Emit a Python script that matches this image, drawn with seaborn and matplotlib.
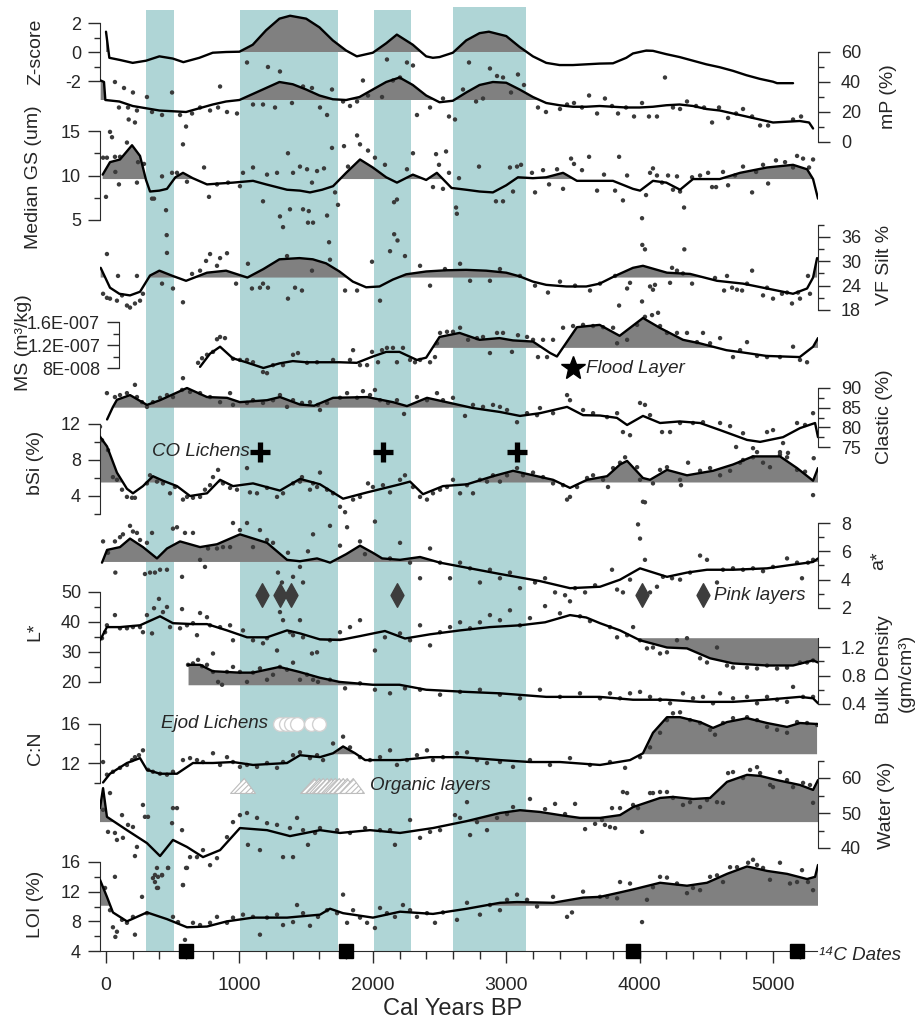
import numpy as np
import pandas as pd
import seaborn as sns
import matplotlib.pyplot as plt
from matplotlib import transforms
from matplotlib.path import Path

sns.set_style('ticks')
plt.rcParams['font.family'] = ['Liberation Sans', 'DejaVu Sans']
plt.rcParams['hatch.linewidth'] = 0.8
plt.rcParams['hatch.color'] = '#bdbdbd'

########################################################################################
# data  (age in cal years BP, value)
########################################################################################

zs_curve = [(0, 1.4), (25, -0.4), (105, -0.55), (200, -0.75), (300, -0.6), (400, -0.3), (500, -0.45), (580, -0.7),
            (700, -0.4), (800, -0.05), (900, 0.0), (1000, 0.02), (1100, 0.5), (1200, 1.5), (1300, 2.3), (1380, 2.5),
            (1500, 2.3), (1600, 1.7), (1700, 0.8), (1800, 0.1), (1880, -0.3), (2000, -0.05), (2100, 0.6), (2180, 1.2),
            (2300, 0.5), (2400, -0.3), (2450, -0.4), (2500, -0.35), (2600, -0.05), (2700, 0.8), (2800, 1.3), (2870, 1.4),
            (3000, 1.1), (3100, 0.35), (3200, -0.3), (3300, -0.75), (3400, -0.9), (3500, -0.9), (3600, -0.85),
            (3700, -0.8), (3800, -0.78), (3900, -0.4), (3950, -0.1), (4050, 0.1), (4100, 0.08), (4200, -0.15),
            (4300, -0.35), (4400, -0.6), (4500, -0.85), (4600, -1.05), (4700, -1.3), (4800, -1.6), (4900, -1.85),
            (5000, -2.05), (5030, -2.15), (5150, -2.15)]

mp_curve = [(-40, 41), (-15, 40), (-5, 28), (100, 27), (200, 24), (300, 22.5), (400, 21), (500, 20.5), (600, 20),
            (700, 22.5), (800, 25), (900, 27), (1000, 28), (1100, 32), (1200, 36), (1300, 40), (1400, 38.5), (1500, 35),
            (1600, 31), (1700, 28.5), (1800, 28), (1900, 30), (2000, 35), (2100, 40), (2200, 43), (2300, 38), (2400, 31),
            (2500, 26.5), (2600, 27.5), (2700, 33), (2800, 38), (2900, 40), (3000, 39.5), (3100, 35), (3200, 30),
            (3300, 26), (3400, 24.5), (3500, 23.5), (3600, 23.5), (3700, 24), (3800, 23.5), (3900, 23), (4000, 23),
            (4100, 23.5), (4200, 24.5), (4300, 25), (4400, 24), (4500, 22), (4600, 21), (4700, 19), (4800, 17),
            (4900, 15), (5000, 13), (5100, 13.5), (5200, 14), (5270, 13), (5300, 9)]
mp_pts = [(67, 40), (135, 36), (202, 33), (307, 30), (495, 33), (97, 23), (165, 23), (232, 21), (170, 15), (217, 13),
          (345, 20), (420, 18), (555, 18), (645, 19), (705, 23), (780, 21), (840, 23), (855, 37), (907, 20), (982, 19),
          (1057, 53), (1102, 25), (1177, 25), (1214, 50), (1267, 23), (1304, 47), (1394, 26), (1477, 37), (1544, 36),
          (1694, 35), (1604, 23), (1657, 18), (1777, 27), (1829, 24), (1882, 27), (1926, 41), (1964, 31), (2069, 30),
          (2106, 55), (2151, 41), (2204, 43), (2256, 53), (2301, 51), (2331, 18), (2429, 23), (2526, 29), (2571, 17),
          (2616, 15), (2676, 35), (2721, 53), (2774, 27), (2826, 29), (2878, 49), (2931, 44), (2976, 43), (3036, 33),
          (3088, 45), (3133, 38), (3238, 23), (3298, 20), (3403, 22), (3456, 25), (3508, 26), (3568, 23), (3621, 31),
          (3681, 19), (3740, 29), (3793, 24), (3838, 19), (3898, 23), (3958, 17), (4018, 26), (4070, 17), (4130, 17),
          (4190, 43), (4250, 23), (4303, 22), (4355, 27), (4423, 24), (4483, 23), (4543, 13), (4595, 23), (4663, 16),
          (4723, 19), (4775, 22), (4843, 17), (4903, 11), (4963, 11), (5150, 15), (5210, 17)]

gs_curve = [(-25, 10.1), (30, 11.5), (105, 11.8), (150, 12.6), (195, 13.4), (255, 12.2), (300, 9.5), (330, 8.2),
            (400, 8.3), (457, 8.5), (520, 9.8), (577, 10.3), (650, 9.7), (757, 9.0), (850, 9.1), (952, 9.2), (1102, 9.4),
            (1200, 9.0), (1357, 8.4), (1454, 8.3), (1529, 8.1), (1620, 8.4), (1702, 8.8), (1800, 10.3), (1904, 11.8),
            (2000, 10.9), (2100, 9.8), (2181, 9.2), (2300, 10.1), (2400, 9.5), (2480, 10.3), (2590, 8.6), (2700, 8.4),
            (2800, 8.2), (2900, 8.1), (3000, 8.9), (3088, 9.8), (3200, 9.7), (3300, 9.8), (3426, 10.3), (3530, 9.4),
            (3650, 9.4), (3800, 9.4), (3950, 8.5), (4003, 8.3), (4100, 9.4), (4200, 9.2), (4303, 8.4), (4400, 9.6),
            (4600, 9.6), (4753, 10.3), (4955, 10.9), (5150, 11.2), (5255, 10.7), (5300, 9.6), (5337, 7.4)]
gs_pts = [(30, 14.9), (45, 14.3), (-22, 12.0), (7, 12.0), (67, 12.1), (105, 12.1), (70, 10.4), (97, 9.0), (0, 7.6),
          (157, 13.7), (240, 11.5), (285, 11.3), (232, 9.2), (345, 7.4), (360, 7.4), (450, 6.1), (455, 3.3), (457, 1.3),
          (420, 9.9), (495, 10.3), (532, 10.3), (600, 15.5), (577, 13.5), (607, 9.3), (735, 10.9), (772, 7.6),
          (832, 9.0), (915, 9.2), (1004, 8.8), (1027, 10.3), (1102, 10.9), (1177, 7.1), (1207, 10.1), (1282, 10.3),
          (1364, 12.5), (1304, 5.4), (1327, 4.2), (1379, 6.2), (1454, 11.0), (1402, 10.3), (1477, 6.2), (1514, 4.7),
          (1552, 4.7), (1507, 10.7), (1582, 10.5), (1634, 10.8), (1544, 9.2), (1520, 6.0), (1657, 5.5), (1672, 2.5),
          (1694, 13.1), (1717, 8.1), (1739, 6.7), (1784, 13.3), (1814, 11.0), (1882, 14.5), (1904, 13.5), (1964, 12.8),
          (2016, 12.0), (2091, 11.2), (2159, 7.0), (2181, 7.3), (2160, 3.4), (2185, 2.7), (2256, 10.7), (2301, 12.5),
          (2474, 12.4), (2496, 11.2), (2549, 12.7), (2526, 8.5), (2451, 8.7), (2571, 10.3), (2624, 6.4), (2630, 5.7),
          (2646, 9.7), (2796, 11.0), (2923, 7.1), (2976, 7.1), (3028, 10.9), (3081, 11.0), (3111, 11.2), (3051, 8.2),
          (3193, 10.3), (3216, 8.1), (3276, 10.6), (3321, 9.0), (3381, 10.7), (3426, 8.5), (3486, 11.9), (3508, 11.3),
          (3568, 10.6), (3621, 12.1), (3681, 8.3), (3733, 10.1), (3816, 8.3), (3846, 12.1), (3875, 7.2), (3906, 10.0),
          (4018, 5.2), (4020, 2.2), (4040, 1.7), (4048, 7.8), (4078, 10.3), (4100, 10.8), (4130, 10.0), (4168, 9.2),
          (4213, 10.0), (4250, 8.4), (4280, 9.9), (4303, 8.2), (4333, 6.4), (4335, 1.7), (4393, 9.8), (4453, 10.0),
          (4513, 10.3), (4543, 8.7), (4573, 8.7), (4625, 10.4), (4663, 8.9), (4715, 10.0), (4775, 11.0), (4843, 8.1),
          (4873, 10.4), (4925, 11.2), (4963, 9.1), (5022, 11.7), (5090, 11.5), (5150, 10.9), (5180, 12.2), (5225, 11.9),
          (5270, 10.9), (5300, 11.8)]

vf_curve = [(-40, 28.4), (30, 23.5), (100, 22), (180, 21.6), (255, 22.5), (330, 26.5), (400, 27.7), (500, 26.4),
            (600, 25.2), (757, 27.2), (900, 27.7), (1060, 26.0), (1180, 28.1), (1300, 30.5), (1450, 30.8), (1550, 30.5),
            (1650, 29.5), (1750, 27.5), (1850, 25.0), (1950, 23.6), (2050, 23.8), (2150, 25.5), (2250, 26.8),
            (2400, 27.5), (2550, 27.8), (2700, 27.9), (2850, 27.7), (3000, 27.2), (3100, 26.3), (3200, 25.0),
            (3300, 24.2), (3450, 23.8), (3600, 23.8), (3700, 24.5), (3816, 26.4), (3950, 28.4), (4025, 28.9),
            (4205, 27.2), (4378, 26.9), (4580, 25.2), (4775, 24.5), (4955, 23.3), (5150, 22.0), (5255, 23.3),
            (5300, 26.0), (5330, 30.8)]
vf_pts = [(7, 31.8), (90, 26.4), (232, 26.4), (-22, 22.0), (7, 21.0), (30, 20.8), (82, 20.3), (120, 21.6), (157, 19.1),
          (180, 18.6), (217, 19.6), (255, 20.3), (277, 22.0), (420, 24.5), (502, 23.3), (577, 19.9), (645, 26.9),
          (705, 27.7), (750, 30.1), (780, 31.8), (855, 30.8), (907, 32.0), (832, 28.9), (975, 24.5), (1064, 29.4),
          (1094, 23.3), (1154, 23.5), (1177, 24.5), (1214, 23.5), (1357, 31.3), (1364, 20.8), (1417, 23.5),
          (1469, 22.8), (1544, 27.7), (1679, 30.4), (1792, 22.8), (1882, 22.8), (1994, 29.9), (2054, 20.3),
          (2129, 32.5), (2241, 31.3), (2354, 28.9), (2429, 24.0), (2541, 28.1), (2654, 29.4), (2729, 25.2),
          (2878, 25.2), (2953, 28.1), (3103, 26.4), (3216, 24.0), (3313, 22.3), (3403, 25.0), (3516, 24.0),
          (3628, 22.8), (3703, 24.5), (3816, 26.4), (3928, 24.7), (3906, 23.3), (3846, 19.1), (4018, 20.1),
          (4078, 23.8), (4115, 24.2), (4100, 23.0), (4243, 28.4), (4280, 27.7), (4228, 24.7), (4325, 27.0),
          (4393, 24.5), (4565, 25.9), (4655, 26.4), (4633, 22.8), (4693, 23.5), (4730, 23.0), (4768, 22.8),
          (4843, 27.7), (4805, 24.5), (4925, 21.6), (4955, 23.5), (5000, 20.8), (5067, 22.0), (5105, 22.3),
          (5187, 22.3), (5202, 20.8), (5142, 19.6), (5277, 22.0), (5262, 26.4)]

ms_curve = [(705, 8.2e-8), (780, 10.5e-8), (855, 11.7e-8), (950, 9.7e-8), (1050, 9.0e-8), (1180, 8.0e-8),
            (1300, 8.8e-8), (1400, 9.2e-8), (1500, 9.0e-8), (1600, 9.0e-8), (1750, 9.0e-8), (1880, 8.9e-8),
            (2000, 10.0e-8), (2100, 10.8e-8), (2200, 10.8e-8), (2330, 9.4e-8), (2400, 9.8e-8), (2500, 13.4e-8),
            (2650, 14.1e-8), (2800, 12.9e-8), (2950, 13.2e-8), (3050, 12.8e-8), (3200, 12.6e-8), (3330, 10.6e-8),
            (3380, 10.0e-8), (3530, 15.1e-8), (3700, 15.5e-8), (3850, 13.6e-8), (4025, 16.7e-8), (4150, 15.0e-8),
            (4325, 12.9e-8), (4450, 12.3e-8), (4650, 11.1e-8), (4775, 10.7e-8), (4950, 10.1e-8), (5200, 9.9e-8),
            (5300, 11.7e-8), (5337, 13.2e-8)]
ms_pts = [(690, 8.9e-8), (720, 9.7e-8), (757, 10.3e-8), (802, 10.8e-8), (832, 13.0e-8), (855, 13.4e-8),
          (892, 13.2e-8), (952, 9.6e-8), (1004, 9.4e-8), (1057, 9.4e-8), (1102, 9.0e-8), (1177, 7.3e-8),
          (1207, 7.1e-8), (1252, 8.5e-8), (1327, 8.5e-8), (1402, 10.3e-8), (1439, 10.6e-8), (1507, 8.9e-8),
          (1582, 9.0e-8), (1702, 9.4e-8), (1829, 9.4e-8), (1852, 11.1e-8), (1904, 8.5e-8), (1957, 8.5e-8),
          (1994, 10.8e-8), (2039, 9.0e-8), (2069, 11.1e-8), (2106, 11.5e-8), (2151, 11.5e-8), (2181, 9.0e-8),
          (2226, 11.5e-8), (2279, 9.4e-8), (2316, 9.0e-8), (2354, 9.4e-8), (2429, 9.0e-8), (2466, 9.9e-8),
          (2481, 12.3e-8), (2504, 14.1e-8), (2556, 14.3e-8), (2601, 14.3e-8), (2654, 15.0e-8), (2714, 12.9e-8),
          (2781, 13.2e-8), (2826, 13.4e-8), (2878, 10.6e-8), (2931, 14.1e-8), (2976, 14.1e-8), (3043, 10.8e-8),
          (3088, 13.7e-8), (3156, 13.4e-8), (3201, 12.9e-8), (3238, 9.9e-8), (3276, 12.9e-8), (3351, 12.9e-8),
          (3306, 9.9e-8), (3426, 15.0e-8), (3501, 15.3e-8), (3576, 15.5e-8), (3651, 15.3e-8), (3726, 15.1e-8),
          (3801, 15.0e-8), (3831, 12.3e-8), (3906, 12.9e-8), (3981, 15.5e-8), (4040, 16.9e-8), (4093, 17.2e-8),
          (4138, 17.6e-8), (4153, 15.3e-8), (4205, 14.1e-8), (4280, 14.1e-8), (4355, 14.1e-8), (4430, 12.5e-8),
          (4475, 14.1e-8), (4528, 12.3e-8), (4603, 13.2e-8), (4700, 9.9e-8), (4753, 11.1e-8), (4805, 12.5e-8),
          (4880, 10.1e-8), (4955, 9.9e-8), (5052, 9.9e-8), (5150, 11.7e-8), (5202, 9.4e-8), (5255, 9.0e-8)]

cl_curve = [(8, 82.0), (52, 85.2), (82, 87.0), (180, 88.2), (307, 85.7), (405, 86.9), (607, 90.0), (757, 87.7),
            (907, 87.5), (1004, 86.4), (1207, 86.9), (1304, 87.7), (1454, 85.8), (1560, 85.5), (1702, 87.5),
            (1957, 87.7), (2151, 86.4), (2256, 85.4), (2406, 87.5), (2579, 86.2), (2751, 84.9), (2954, 83.9),
            (3103, 82.9), (3253, 83.6), (3456, 85.2), (3576, 83.1), (3703, 83.0), (3830, 82.4), (3906, 80.6),
            (4025, 82.9), (4153, 81.1), (4300, 81.5), (4453, 81.1), (4603, 79.3), (4805, 76.8), (4903, 76.3),
            (5075, 77.5), (5202, 79.8), (5315, 81.1), (5337, 77.5)]
cl_pts = [(7, 88.7), (67, 87.7), (105, 88.2), (157, 88.7), (217, 90.8), (232, 87.7), (270, 86.4), (307, 85.2),
          (352, 86.4), (405, 87.5), (457, 88.2), (502, 87.7), (570, 89.5), (577, 92.5), (630, 89.0), (705, 88.7),
          (780, 87.7), (855, 86.4), (930, 88.7), (952, 85.7), (1057, 86.2), (1102, 86.9), (1177, 86.2), (1252, 86.9),
          (1304, 88.2), (1357, 85.2), (1402, 86.9), (1469, 86.2), (1529, 86.4), (1589, 85.7), (1604, 84.4),
          (1657, 86.2), (1754, 87.5), (1807, 88.7), (1882, 87.5), (1926, 89.2), (1979, 88.2), (2016, 89.5),
          (2054, 86.9), (2114, 86.2), (2181, 86.9), (2234, 83.4), (2331, 87.7), (2406, 86.9), (2481, 88.7),
          (2526, 86.9), (2601, 87.5), (2691, 82.9), (2751, 85.7), (2826, 85.2), (2901, 85.7), (2953, 85.2),
          (3006, 84.4), (3081, 81.3), (3156, 83.6), (3231, 83.1), (3253, 84.9), (3351, 83.6), (3456, 88.2),
          (3478, 86.9), (3576, 84.4), (3651, 83.6), (3756, 82.6), (3831, 83.6), (3875, 78.8), (3928, 78.0),
          (4003, 86.2), (4040, 85.7), (4078, 83.1), (4168, 78.8), (4228, 78.8), (4303, 81.1), (4400, 81.1),
          (4475, 81.3), (4603, 81.1), (4678, 80.3), (4775, 78.5), (4723, 75.0), (4850, 74.7), (4880, 73.7),
          (4955, 78.8), (5000, 79.3), (5052, 73.7), (5075, 76.0), (5112, 73.5), (5180, 81.1), (5240, 80.6),
          (5300, 83.6)]

bsi_curve = [(-45, 10.6), (8, 9.5), (82, 6.6), (157, 4.8), (202, 4.3), (277, 5.1), (352, 6.2), (427, 5.7), (532, 5.1),
             (630, 4.0), (757, 4.3), (855, 5.8), (952, 5.1), (1102, 5.4), (1304, 4.6), (1454, 5.9), (1604, 5.3),
             (1777, 3.7), (1957, 4.4), (2204, 5.3), (2279, 5.6), (2376, 4.2), (2526, 5.1), (2706, 5.3), (2901, 6.2),
             (3051, 6.8), (3201, 6.3), (3351, 5.8), (3478, 4.9), (3606, 5.8), (3756, 6.2), (3853, 7.5), (3906, 7.9),
             (4025, 6.0), (4078, 5.8), (4205, 6.9), (4355, 6.3), (4550, 6.8), (4700, 7.5), (4850, 8.4), (5052, 8.4),
             (5180, 7.1), (5300, 5.7), (5337, 7.1)]
bsi_pts = [(-45, 11.7), (-30, 10.2), (15, 9.1), (52, 6.1), (82, 5.8), (120, 4.7), (157, 3.9), (195, 3.8), (217, 3.8),
           (307, 5.4), (330, 6.3), (382, 5.6), (427, 5.4), (480, 4.3), (517, 5.0), (577, 3.6), (607, 3.9), (652, 3.8),
           (705, 3.9), (742, 4.7), (780, 5.2), (802, 6.1), (840, 6.9), (877, 5.4), (930, 4.9), (982, 4.7), (1057, 7.1),
           (1079, 4.4), (1132, 4.3), (1207, 4.9), (1282, 3.9), (1327, 4.3), (1402, 5.4), (1454, 5.6), (1469, 6.1),
           (1529, 4.7), (1582, 5.0), (1552, 5.4), (1604, 6.6), (1657, 4.7), (1702, 4.3), (1754, 2.8), (1792, 2.2),
           (1852, 3.6), (1904, 3.9), (1964, 5.4), (2001, 5.0), (2076, 5.2), (2129, 4.4), (2204, 5.8), (2241, 6.3),
           (2301, 5.0), (2354, 3.9), (2406, 3.6), (2451, 4.3), (2504, 4.7), (2556, 5.0), (2601, 5.8), (2654, 4.3),
           (2706, 5.2), (2751, 4.3), (2803, 5.8), (2856, 5.6), (2901, 6.3), (2953, 5.6), (3006, 6.3), (3081, 7.1),
           (3126, 6.3), (3201, 6.6), (3276, 6.1), (3351, 5.4), (3426, 5.2), (3456, 3.6), (3478, 3.9), (3531, 5.0),
           (3606, 6.0), (3651, 6.3), (3726, 5.8), (3801, 7.1), (3763, 5.0), (3853, 7.7), (3891, 8.3), (3981, 7.2),
           (4040, 3.3), (4003, 5.8), (4100, 5.4), (4153, 6.9), (4205, 7.2), (4303, 5.8), (4310, 5.2), (4363, 7.7),
           (4453, 6.8), (4528, 7.1), (4603, 6.3), (4678, 6.8), (4753, 7.7), (4775, 8.0), (4850, 8.3), (4925, 7.7),
           (4977, 7.2), (5052, 8.6), (5105, 8.3), (5180, 6.9), (5240, 6.7), (5300, 4.1), (5305, 8.2)]

astar_curve = [(-30, 5.2), (8, 6.1), (105, 6.3), (180, 6.9), (277, 6.3), (382, 5.5), (457, 6.2), (555, 6.7),
               (705, 6.3), (832, 6.5), (1004, 7.2), (1207, 6.6), (1357, 5.4), (1454, 5.3), (1582, 5.5), (1680, 5.2),
               (1800, 5.8), (1904, 6.4), (2000, 5.9), (2070, 5.5), (2204, 5.4), (2354, 5.6), (2504, 5.2), (2729, 4.8),
               (2954, 4.4), (3253, 3.9), (3478, 3.4), (3703, 3.5), (3853, 4.0), (4003, 4.8), (4205, 4.2), (4355, 4.5),
               (4505, 4.7), (4700, 4.7), (4955, 4.8), (5105, 5.0), (5300, 5.25), (5337, 5.5)]
astar_pts = [(-22, 6.7), (15, 5.9), (67, 6.7), (105, 7.0), (127, 7.2), (180, 7.8), (202, 7.4), (232, 7.3), (255, 6.8),
             (307, 6.6), (345, 7.3), (70, 4.5), (292, 4.4), (330, 4.5), (367, 4.5), (405, 4.7), (457, 4.7), (502, 7.6),
             (532, 7.7), (592, 7.3), (570, 4.2), (652, 7.3), (705, 5.4), (742, 4.9), (765, 6.2), (832, 6.2),
             (877, 6.3), (930, 6.3), (952, 8.0), (1004, 7.5), (1057, 8.0), (1102, 6.3), (1154, 7.5), (1207, 6.8),
             (1252, 6.6), (1289, 4.5), (1319, 3.8), (1364, 5.9), (1402, 4.2), (1454, 4.9), (1477, 3.8), (1514, 6.0),
             (1552, 7.2), (1679, 7.8), (1754, 6.4), (1807, 7.7), (1904, 6.7), (1941, 5.8), (2016, 8.1), (2129, 5.5),
             (2204, 6.6), (2279, 5.2), (2354, 4.1), (2429, 6.2), (2504, 5.2), (2579, 4.1), (2654, 5.2), (2729, 4.8),
             (2803, 3.8), (2878, 4.7), (2953, 4.1), (3028, 4.5), (3103, 3.4), (3216, 3.8), (3291, 4.1), (3366, 3.1),
             (3441, 2.9), (3516, 3.4), (3591, 3.1), (3666, 3.6), (3793, 4.7), (3831, 3.3), (3875, 3.1), (3928, 4.0),
             (3988, 7.9), (4003, 6.9), (4025, 9.5), (4040, 5.4), (4078, 3.1), (4130, 3.5), (4175, 4.2), (4243, 4.1),
             (4303, 4.0), (4378, 4.5), (4453, 5.7), (4505, 5.4), (4580, 3.8), (4625, 4.7), (4700, 4.8), (4775, 4.7),
             (4850, 4.8), (4925, 4.6), (5000, 4.9), (5105, 5.5), (5180, 5.2), (5217, 4.1), (5262, 5.2), (5300, 5.4)]

lstar_curve = [(-45, 33.9), (7, 38.3), (105, 38.3), (255, 38.9), (405, 41.9), (502, 39.6), (652, 39.3), (757, 39.3),
               (907, 37.2), (1057, 34.9), (1207, 34.9), (1357, 37.2), (1454, 36.2), (1604, 34.2), (1754, 34.0),
               (1904, 35.3), (2091, 37.0), (2241, 34.5), (2429, 35.9), (2654, 37.2), (2878, 38.3), (3103, 38.9),
               (3291, 39.9), (3478, 42.3), (3600, 41.5), (3703, 39.6), (3853, 37.2), (4003, 33.9), (4205, 31.5),
               (4355, 31.2), (4528, 27.9), (4700, 26.2), (4955, 25.5), (5150, 25.5), (5300, 27.2), (5337, 26.5)]
lstar_pts = [(-30, 34.6), (-7, 36.6), (7, 38.9), (67, 42.3), (105, 37.9), (157, 37.9), (202, 38.3), (255, 38.3),
             (277, 36.6), (307, 42.3), (345, 36.2), (360, 44.6), (397, 47.7), (427, 43.3), (457, 45.0), (480, 38.3),
             (555, 37.9), (570, 44.3), (607, 38.9), (652, 39.6), (682, 35.6), (705, 43.0), (757, 41.6), (780, 38.9),
             (802, 29.5), (855, 38.3), (930, 38.9), (952, 33.9), (1027, 37.2), (1102, 33.9), (1177, 32.9),
             (1207, 34.6), (1282, 30.5), (1304, 43.3), (1327, 40.6), (1379, 36.6), (1402, 35.6), (1454, 40.6),
             (1477, 34.9), (1544, 29.5), (1582, 29.9), (1679, 33.9), (1754, 36.6), (1829, 38.3), (1904, 40.6),
             (2016, 30.5), (2091, 34.9), (2204, 36.2), (2279, 33.9), (2354, 38.9), (2429, 32.2), (2504, 36.6),
             (2579, 38.3), (2654, 39.9), (2729, 37.9), (2803, 39.9), (2878, 42.3), (2953, 40.6), (3028, 43.9),
             (3103, 38.9), (3178, 41.3), (3291, 45.3), (3403, 42.9), (3478, 46.9), (3553, 41.9), (3628, 40.3),
             (3778, 38.3), (3831, 34.9), (3906, 35.6), (3951, 38.3), (4003, 33.9), (4055, 31.2), (4100, 31.5),
             (4153, 29.5), (4205, 29.9), (4280, 33.9), (4355, 34.6), (4453, 27.9), (4505, 26.5), (4580, 31.5),
             (4655, 25.5), (4700, 24.8), (4805, 24.8), (4880, 24.5), (4955, 25.5), (5030, 24.5), (5105, 24.8),
             (5202, 26.5), (5255, 26.5), (5300, 27.2)]

bd_curve = [(615, 0.95), (705, 0.95), (800, 0.86), (1000, 0.84), (1100, 0.84), (1300, 0.92), (1450, 0.85),
            (1600, 0.77), (1750, 0.71), (2000, 0.67), (2200, 0.67), (2400, 0.60), (2700, 0.57), (2950, 0.55),
            (3300, 0.50), (3700, 0.50), (3950, 0.46), (4200, 0.46), (4450, 0.43), (4700, 0.43), (4950, 0.46),
            (5200, 0.50), (5300, 0.48), (5337, 0.41)]
bd_pts = [(615, 0.95), (652, 0.97), (690, 1.02), (720, 0.93), (757, 0.95), (802, 0.85), (840, 0.71), (870, 0.67),
          (907, 0.85), (952, 0.92), (1004, 0.85), (1057, 0.71), (1102, 0.84), (1154, 0.90), (1207, 0.74),
          (1252, 0.81), (1304, 0.92), (1357, 0.88), (1402, 0.98), (1454, 0.74), (1507, 0.81), (1552, 0.74),
          (1589, 0.71), (1679, 0.74), (1792, 0.62), (1904, 0.69), (2016, 0.60), (2129, 0.55), (2241, 0.62),
          (2354, 0.60), (2504, 0.53), (2654, 0.57), (2803, 0.60), (2953, 0.53), (3103, 0.48), (3253, 0.60),
          (3403, 0.50), (3553, 0.55), (3703, 0.48), (3778, 0.55), (3853, 0.48), (3928, 0.55), (4003, 0.57),
          (4078, 0.50), (4153, 0.46), (4228, 0.41), (4325, 0.55), (4400, 0.48), (4475, 0.50), (4550, 0.41),
          (4603, 0.55), (4700, 0.48), (4805, 0.50), (4880, 0.41), (4955, 0.50), (5030, 0.46), (5105, 0.43),
          (5150, 0.64), (5225, 0.50), (5300, 0.50)]

cn_curve = [(-22, 10.0), (30, 10.9), (157, 12.0), (255, 12.5), (307, 11.3), (405, 10.9), (532, 10.9), (652, 12.0),
            (802, 12.0), (952, 12.1), (1102, 11.8), (1357, 12.0), (1454, 12.8), (1604, 12.6), (1702, 13.0),
            (1777, 13.7), (1867, 13.0), (1942, 12.3), (2204, 12.3), (2429, 12.6), (2654, 12.6), (2953, 12.3),
            (3178, 12.1), (3403, 12.1), (3703, 11.8), (3928, 12.3), (4025, 13.0), (4100, 15.1), (4205, 16.7),
            (4303, 16.7), (4453, 16.2), (4550, 15.6), (4655, 16.2), (4805, 16.6), (4955, 16.1), (5105, 15.7),
            (5202, 16.1), (5330, 16.0)]
cn_pts = [(-22, 12.1), (7, 10.8), (52, 11.1), (105, 11.5), (157, 11.8), (195, 12.3), (217, 12.6), (247, 12.8),
          (277, 13.3), (315, 11.3), (352, 11.1), (405, 10.9), (457, 10.8), (502, 11.1), (577, 12.3), (630, 12.5),
          (682, 12.3), (727, 12.1), (802, 13.0), (855, 11.8), (907, 12.6), (952, 12.1), (1004, 11.6), (1057, 11.8),
          (1132, 11.6), (1207, 12.0), (1282, 11.5), (1327, 12.1), (1402, 12.8), (1454, 13.1), (1529, 12.5),
          (1582, 12.8), (1627, 12.3), (1702, 14.0), (1777, 14.7), (1829, 13.6), (1904, 12.6), (1979, 12.3),
          (2054, 12.6), (2129, 13.3), (2181, 11.8), (2256, 12.3), (2331, 12.8), (2406, 13.3), (2451, 12.3),
          (2526, 12.6), (2631, 13.0), (2706, 13.1), (2781, 12.3), (2856, 12.0), (2953, 12.1), (3051, 11.6),
          (3178, 12.3), (3328, 11.8), (3478, 12.5), (3628, 11.8), (3778, 12.1), (3891, 11.5), (4003, 12.6),
          (4078, 13.6), (4153, 15.1), (4205, 16.4), (4250, 17.1), (4303, 17.2), (4378, 16.4), (4453, 16.1),
          (4528, 15.4), (4565, 14.9), (4625, 16.1), (4700, 16.6), (4805, 16.7), (4880, 16.4), (4955, 15.7),
          (5030, 15.4), (5105, 15.1), (5180, 16.2), (5255, 16.1), (5330, 15.9)]

water_curve = [(-45, 51.4), (-22, 57.1), (7, 48.9), (157, 45.1), (307, 41.4), (405, 37.7), (502, 42.3), (607, 40.3),
               (727, 37.4), (855, 39.4), (1004, 45.7), (1207, 45.1), (1379, 43.4), (1604, 45.1), (1754, 44.3),
               (1979, 45.1), (2204, 44.3), (2451, 45.7), (2706, 47.7), (2953, 50.0), (3103, 50.8), (3253, 50.3),
               (3403, 49.4), (3553, 48.6), (3703, 48.6), (3853, 49.4), (3951, 51.7), (4153, 54.3), (4250, 54.6),
               (4400, 54.0), (4528, 54.3), (4655, 58.9), (4805, 60.9), (4903, 60.6), (5030, 59.4), (5202, 58.0),
               (5300, 56.6), (5337, 59.4)]
water_pts = [(-22, 50.9), (30, 55.7), (15, 44.6), (67, 44.3), (82, 42.3), (120, 49.4), (127, 42.9), (165, 46.6),
             (202, 46.0), (232, 40.3), (217, 37.7), (277, 52.3), (292, 48.9), (315, 48.9), (352, 31.4), (367, 32.3),
             (390, 28.6), (420, 32.3), (382, 34.3), (465, 34.3), (495, 47.1), (502, 51.4), (532, 51.4), (570, 45.1),
             (577, 29.4), (600, 34.3), (630, 37.4), (682, 37.4), (727, 39.4), (780, 35.1), (832, 37.1), (907, 43.1),
             (952, 47.4), (1004, 49.4), (1064, 40.9), (1057, 50.0), (1132, 48.6), (1154, 39.4), (1207, 47.1),
             (1282, 46.6), (1327, 37.4), (1379, 45.7), (1432, 48.6), (1402, 37.4), (1477, 45.1), (1514, 40.9),
             (1567, 44.3), (1604, 45.7), (1732, 45.1), (1829, 44.3), (1942, 45.7), (2054, 45.1), (2129, 45.1),
             (2166, 40.9), (2279, 48.0), (2354, 42.9), (2429, 44.6), (2504, 45.1), (2616, 49.4), (2654, 48.6),
             (2706, 53.1), (2729, 43.7), (2781, 47.4), (2856, 45.1), (2931, 48.6), (3006, 49.7), (3051, 51.7),
             (3178, 54.0), (3291, 51.1), (3366, 52.6), (3441, 49.7), (3516, 52.6), (3591, 45.4), (3666, 46.9),
             (3718, 48.0), (3740, 46.6), (3778, 46.0), (3816, 45.7), (3793, 51.4), (3853, 51.4), (3875, 56.0),
             (3906, 55.7), (3951, 52.3), (3988, 51.4), (4018, 44.6), (4078, 55.7), (4100, 55.7), (4153, 56.0),
             (4205, 56.0), (4250, 54.3), (4325, 52.3), (4378, 53.1), (4453, 51.7), (4505, 53.7), (4580, 53.1),
             (4625, 52.9), (4663, 61.4), (4700, 61.7), (4775, 60.0), (4828, 62.3), (4880, 63.1), (4903, 61.4),
             (4978, 58.0), (5000, 57.4), (5052, 61.7), (5105, 59.4), (5150, 57.4), (5225, 58.6), (5277, 58.0),
             (5300, 52.9)]

loi_curve = [(-45, 13.6), (7, 11.3), (52, 9.2), (157, 8.0), (307, 9.2), (457, 8.3), (607, 7.2), (757, 7.3), (907, 8.0),
             (1102, 8.5), (1357, 8.5), (1604, 8.9), (1679, 9.7), (1777, 9.1), (2001, 8.5), (2204, 9.3), (2451, 9.0),
             (2706, 9.7), (2953, 10.5), (3081, 10.6), (3351, 10.5), (3576, 11.2), (3703, 11.3), (3853, 11.9),
             (3951, 12.3), (4153, 13.2), (4355, 12.8), (4505, 13.2), (4655, 14.4), (4805, 15.4), (4955, 14.8),
             (5105, 14.4), (5255, 13.7), (5315, 14.0), (5337, 15.6)]
loi_pts = [(-7, 12.5), (67, 14.0), (30, 9.5), (52, 7.2), (82, 6.6), (70, 5.9), (120, 8.2), (157, 7.8), (202, 8.6),
           (217, 6.2), (270, 11.3), (307, 9.1), (367, 13.3), (390, 14.0), (382, 12.5), (420, 14.2), (465, 15.2),
           (502, 8.6), (540, 7.9), (577, 12.9), (592, 5.5), (607, 15.2), (652, 7.8), (705, 7.5), (780, 7.8),
           (832, 8.6), (907, 7.8), (952, 8.5), (1027, 8.9), (1102, 8.6), (1154, 6.2), (1207, 8.5), (1282, 8.9),
           (1327, 7.5), (1402, 7.9), (1432, 10.2), (1477, 9.1), (1529, 7.4), (1589, 8.6), (1657, 9.5), (1732, 9.1),
           (1777, 11.6), (1807, 7.8), (1852, 9.5), (1904, 8.5), (1957, 7.8), (2016, 7.1), (2054, 9.8), (2106, 9.1),
           (2166, 8.6), (2226, 10.2), (2279, 9.5), (2331, 8.6), (2406, 9.1), (2466, 7.8), (2526, 9.2), (2631, 8.2),
           (2706, 10.5), (2803, 8.9), (2878, 10.2), (2953, 9.5), (3006, 10.9), (3081, 11.6), (3156, 10.9),
           (3231, 10.0), (3351, 11.3), (3456, 8.6), (3493, 9.2), (3576, 12.0), (3703, 11.3), (3853, 13.3),
           (3928, 13.1), (3756, 11.3), (3831, 11.1), (4018, 7.9), (4055, 10.9), (4100, 12.6), (4153, 14.0),
           (4205, 13.9), (4280, 13.1), (4355, 11.8), (4400, 12.5), (4453, 12.2), (4528, 14.0), (4580, 14.2),
           (4625, 13.3), (4678, 15.3), (4730, 15.3), (4813, 15.9), (4850, 16.3), (4880, 15.6), (4925, 15.2),
           (4977, 13.6), (5052, 15.9), (5127, 13.1), (5180, 13.3), (5217, 14.9), (5262, 13.3), (5300, 12.2)]

# event markers (ages)
humid_bands = [(300, 510), (1005, 1740), (2010, 2286), (2600, 3150)]
c14_dates = [600, 1800, 3950, 5180]
co_lichens = [1155, 2077, 3081]
flood_layer = [3500]
pink_layers = [1169, 1304, 1387, 2181, 4018, 4475]
ejod_lichens = [1304, 1349, 1387, 1432, 1537, 1597]
organic_layers = [1027, 1552, 1589, 1619, 1649, 1679, 1709, 1739, 1769, 1799, 1844]

x_major = [0, 1000, 2000, 3000, 4000, 5000]
x_labels = ['0', '1000', '2000', '3000', '4000', '5000']

########################################################################################
# layout (pixels of the 921 x 1027 picture)
########################################################################################

W, H = 921, 1027
AX_L, AX_R, AX_T, AX_B = 100, 818, 0, 951
X_MIN, X_MAX = -45, 5337
BAND = '#afd5d6'
FILL = '#808080'
DOT = '#3a3a3a'
AXC = '#2b2b2b'


def fx(px):
    return px / W


def fy(py):
    return 1 - py / H


rect = [fx(AX_L), fy(AX_B), fx(AX_R) - fx(AX_L), fy(AX_T) - fy(AX_B)]

# (curve, points, side, (value a, px a, value b, px b), spine bounds, major, labels, minor, fill base, fill below, spine x)
panels = [
    (zs_curve, None, 'left', (2, 23, -2, 81), (-2, 2), [-2, 0, 2], ['-2', '0', '2'], [-1, 1], 0, False, None),
    (mp_curve, mp_pts, 'right', (60, 52, 0, 142), (0, 60), [0, 20, 40, 60], ['0', '20', '40', '60'], [10, 30, 50], 28, False, None),
    (gs_curve, gs_pts, 'left', (15, 131, 5, 220), (5, 15), [5, 10, 15], ['5', '10', '15'], [7.5, 12.5], 9.6, False, None),
    (vf_curve, vf_pts, 'right', (36, 237, 18, 310), (18, 39), [18, 24, 30, 36], ['18', '24', '30', '36'], [21, 27, 33, 39], 26, False, None),
    (ms_curve, ms_pts, 'left', (1.6e-7, 322, 8e-8, 368), (8e-8, 1.6e-7), [8e-8, 1.2e-7, 1.6e-7],
     ['8E-008', '1.2E-007', '1.6E-007'], [1.0e-7, 1.4e-7], 1.15e-7, False, 97),
    (cl_curve, cl_pts, 'right', (90, 388, 75, 447), (75, 90), [75, 80, 85, 90], ['75', '80', '85', '90'], [77.5, 82.5, 87.5], 85, False, None),
    (bsi_curve, bsi_pts, 'left', (12, 424, 4, 496), (2, 12), [4, 8, 12], ['4', '8', '12'], [2, 6, 10], 5.5, False, None),
    (astar_curve, astar_pts, 'right', (8, 523, 2, 608), (2, 8), [2, 4, 6, 8], ['2', '4', '6', '8'], [3, 5, 7], 5.25, False, None),
    (lstar_curve, lstar_pts, 'left', (50, 592, 20, 682), (20, 50), [20, 30, 40, 50], ['20', '30', '40', '50'], [25, 35, 45], 34.6, True, None),
    (bd_curve, bd_pts, 'right', (1.2, 647, 0.4, 704), (0.4, 1.32), [0.4, 0.8, 1.2], ['0.4', '0.8', '1.2'], [0.6, 1.0], 0.67, False, None),
    (cn_curve, cn_pts, 'left', (16, 724, 12, 763), (10, 16), [12, 16], ['12', '16'], [10, 14], 12.9, False, None),
    (water_curve, water_pts, 'right', (60, 778, 40, 848), (40, 65), [40, 50, 60], ['40', '50', '60'], [45, 55, 65], 47.4, False, None),
    (loi_curve, loi_pts, 'left', (16, 862, 4, 951), (4, 16), [4, 8, 12, 16], ['4', '8', '12', '16'], [6, 10, 14], 10.1, False, None),
]

# y-axis titles: (text, x px, y px)
ylabels = [('Z-score', 36, 52), ('Median GS (um)', 34, 177), ('MS (m³/kg)', 24, 343), ('bSi (%)', 35, 463),
           ('L*', 35, 632), ('C:N', 35, 748), ('LOI (%)', 35, 904),
           ('mP (%)', 888, 97), ('VF Silt %', 884, 265), ('Clastic (%)', 884, 417), ('a*', 879, 561),
           ('Bulk Density', 884, 670), ('(gm/cm³)', 906, 673), ('Water (%)', 886, 805)]

########################################################################################
# figure
########################################################################################

fig = plt.figure(figsize=(W / 100, H / 100), dpi=100)

ax0 = fig.add_axes(rect)
ax0.set_xlim(X_MIN, X_MAX)
ax0.set_ylim(0, 1)
band_tops = [10, 10, 10, 7]
for (a, b), top in zip(humid_bands, band_tops):
    ax0.axvspan(a, b, ymin=0, ymax=(AX_B - top) / (AX_B - AX_T), color=BAND, lw=0, zorder=0)
for s in ['left', 'right', 'top']:
    ax0.spines[s].set_visible(False)
ax0.spines['bottom'].set_bounds(X_MIN, 5330)
ax0.spines['bottom'].set_color(AXC)
ax0.set_yticks([])
ax0.set_xticks(x_major)
ax0.set_xticklabels(x_labels)
ax0.set_xticks(list(range(0, 5201, 200)), minor=True)
ax0.tick_params(axis='x', which='major', length=8.6, width=1, labelsize=14, pad=10, color=AXC)
ax0.tick_params(axis='x', which='minor', length=5.8, width=1, color=AXC)
ax0.plot(c14_dates, [0] * len(c14_dates), 's', ms=10, color='black', clip_on=False, zorder=6)

for curve, pts, side, scale, bounds, major, labels, minor, base, below, spine_x in panels:
    ax = fig.add_axes(rect, facecolor='none')
    cx, cy = zip(*curve)
    cx, cy = np.array(cx), np.array(cy)
    if pts is not None:
        px_, py_ = zip(*pts)
        sns.scatterplot(x=list(px_), y=list(py_), ax=ax, s=10, color=DOT, edgecolor='none', linewidth=0, zorder=3)
    if below:
        ax.fill_between(cx, cy, base, where=cy < base, interpolate=True, color=FILL, lw=0, zorder=1)
    else:
        ax.fill_between(cx, cy, base, where=cy > base, interpolate=True, color=FILL, lw=0, zorder=1)
    sns.lineplot(x=cx, y=cy, ax=ax, color='black', lw=1.7, sort=False, estimator=None, zorder=4,
                 solid_joinstyle='round')

    va, pa, vb, pb = scale
    k = (vb - va) / (pb - pa)
    ax.set_xlim(X_MIN, X_MAX)
    ax.set_ylim(va + (AX_B - pa) * k, va + (AX_T - pa) * k)
    for s in ['top', 'bottom', 'left', 'right']:
        ax.spines[s].set_visible(s == side)
    ax.spines[side].set_bounds(*bounds)
    ax.spines[side].set_color(AXC)
    if spine_x is not None:
        ax.spines[side].set_position(('data', spine_x))
    ax.xaxis.set_visible(False)
    if side == 'right':
        ax.yaxis.tick_right()
    else:
        ax.yaxis.tick_left()
    ax.set_yticks(major)
    ax.set_yticklabels(labels)
    ax.set_yticks(minor, minor=True)
    ax.tick_params(axis='y', which='major', length=8.6, width=1, labelsize=13, color=AXC,
                   pad=8 if side == 'right' else 5)
    ax.tick_params(axis='y', which='minor', length=4.3, width=1, color=AXC)
    ax.set_xlabel('')
    ax.set_ylabel('')

for text, x, y in ylabels:
    fig.text(fx(x), fy(y), text, rotation=90, ha='center', va='center', size=14)

fig.text(fx(453), fy(1009), 'Cal Years BP', ha='center', va='center', size=17)

# event symbols (x = age, y = row on the page)
top = fig.add_axes(rect, facecolor='none')
top.set_xlim(X_MIN, X_MAX)
top.axis('off')
trans = transforms.blended_transform_factory(top.transData, fig.transFigure)

diamond = Path([(0, -1), (0.55, 0), (0, 1), (-0.55, 0), (0, -1)],
               [Path.MOVETO, Path.LINETO, Path.LINETO, Path.LINETO, Path.CLOSEPOLY])
tri = Path([(-1, -0.6), (1, -0.6), (0.1, 0.6), (-1, -0.6)], [Path.MOVETO, Path.LINETO, Path.LINETO, Path.CLOSEPOLY])

top.plot(co_lichens, [fy(452)] * len(co_lichens), ls='none', marker='+', ms=15, mew=3.8, color='black',
         transform=trans, clip_on=False)
top.plot(flood_layer, [fy(368)] * len(flood_layer), ls='none', marker='*', ms=18, color='black',
         transform=trans, clip_on=False)
top.plot(pink_layers, [fy(595)] * len(pink_layers), ls='none', marker=diamond, ms=17, color='#3d3d3d',
         transform=trans, clip_on=False)
top.plot(ejod_lichens, [fy(724)] * len(ejod_lichens), ls='none', marker='o', ms=10, mfc='white', mec='#d2d2d2',
         mew=1, transform=trans, clip_on=False)
top.scatter(organic_layers, [fy(786)] * len(organic_layers), marker=tri, s=320, facecolor='white',
            edgecolor='#bdbdbd', hatch='//////', linewidth=0.8, transform=trans, clip_on=False)

fig.text(fx(250), fy(452), 'CO Lichens', ha='right', va='center', size=13.5, style='italic')
fig.text(fx(586), fy(368), 'Flood Layer', ha='left', va='center', size=13.5, style='italic')
fig.text(fx(714), fy(595), 'Pink layers', ha='left', va='center', size=13.5, style='italic')
fig.text(fx(268), fy(724), 'Ejod Lichens', ha='right', va='center', size=13.5, style='italic')
fig.text(fx(370), fy(786), 'Organic layers', ha='left', va='center', size=13.5, style='italic')
fig.text(fx(819), fy(955), '¹⁴C Dates', ha='left', va='center', size=13.5, style='italic')

fig.savefig('out.png', dpi=100)
